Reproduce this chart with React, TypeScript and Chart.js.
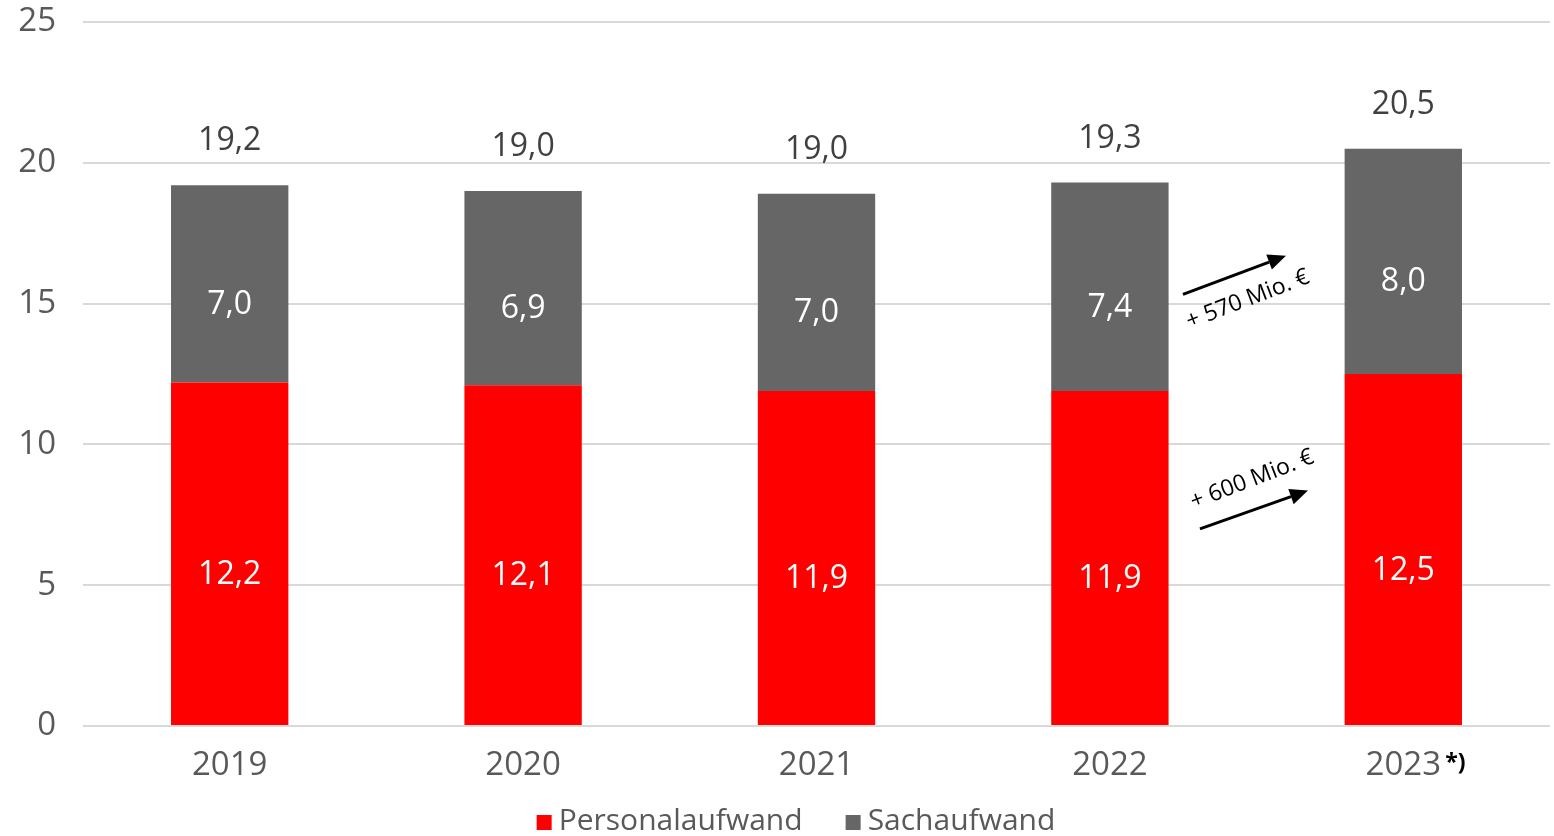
import React, { useEffect, useRef } from "react";
import { Chart, registerables } from "chart.js";

Chart.register(...registerables);

const categories = ["2019", "2020", "2021", "2022", "2023"];
const personalaufwand = [12.2, 12.1, 11.9, 11.9, 12.5];
const sachaufwand = [7.0, 6.9, 7.0, 7.4, 8.0];
const totals = [19.2, 19.0, 19.0, 19.3, 20.5];
const yTicks = [0, 5, 10, 15, 20, 25];

// annotations in data coordinates (x = category index, y = value)
const arrows = [
  { x1: 3.249, y1: 15.33, x2: 3.6, y2: 16.7 },
  { x1: 3.307, y1: 7.0, x2: 3.675, y2: 8.36 },
];
const arrowTexts = [
  { x: 3.47, y: 15.15, text: "+ 570 Mio. €" },
  { x: 3.485, y: 8.75, text: "+ 600 Mio. €" },
];

const FONT = "'Open Sans', 'Noto Sans', sans-serif";
const fmt = (v: number) => v.toFixed(1).replace(".", ",");

const labelPlugin = {
  id: "labelPlugin",
  afterDatasetsDraw(chart: any) {
    const ctx = chart.ctx;
    const xs = chart.scales.x;
    const ys = chart.scales.y;
    ctx.save();
    ctx.textAlign = "center";
    ctx.textBaseline = "middle";
    ctx.font = `32px ${FONT}`;
    chart.data.datasets.forEach((ds: any, di: number) => {
      const meta = chart.getDatasetMeta(di);
      meta.data.forEach((bar: any, i: number) => {
        const cy = (bar.y + bar.base) / 2 + 21;
        ctx.fillStyle = "#ffffff";
        ctx.fillText(fmt(ds.data[i]), bar.x, cy);
      });
    });
    const top = chart.getDatasetMeta(chart.data.datasets.length - 1);
    top.data.forEach((bar: any, i: number) => {
      ctx.fillStyle = "#404040";
      ctx.fillText(fmt(totals[i]), bar.x, bar.y - 44);
    });

    // arrows
    ctx.strokeStyle = "#000";
    ctx.fillStyle = "#000";
    ctx.lineWidth = 3;
    arrows.forEach((a) => {
      const px1 = xs.getPixelForValue(a.x1);
      const px2 = xs.getPixelForValue(a.x2);
      const py1 = ys.getPixelForValue(a.y1);
      const py2 = ys.getPixelForValue(a.y2);
      const ang = Math.atan2(py2 - py1, px2 - px1);
      const hl = 18;
      const hw = 8;
      const bx = px2 - hl * Math.cos(ang);
      const by = py2 - hl * Math.sin(ang);
      ctx.beginPath();
      ctx.moveTo(px1, py1);
      ctx.lineTo(bx, by);
      ctx.stroke();
      ctx.beginPath();
      ctx.moveTo(px2, py2);
      ctx.lineTo(bx + hw * Math.sin(ang), by - hw * Math.cos(ang));
      ctx.lineTo(bx - hw * Math.sin(ang), by + hw * Math.cos(ang));
      ctx.closePath();
      ctx.fill();
    });
    ctx.font = `23px ${FONT}`;
    arrowTexts.forEach((t) => {
      const px = xs.getPixelForValue(t.x);
      const py = ys.getPixelForValue(t.y);
      ctx.save();
      ctx.translate(px, py);
      ctx.rotate((-21 * Math.PI) / 180);
      ctx.fillText(t.text, 0, 0);
      ctx.restore();
    });

    // footnote marker next to 2023
    ctx.font = `bold 23px ${FONT}`;
    ctx.textAlign = "left";
    ctx.fillStyle = "#000";
    const lx = xs.getPixelForValue(categories.length - 1);
    ctx.fillText("*)", lx + 42, ys.bottom + 37);

    // legend
    ctx.font = `30px ${FONT}`;
    const items = chart.data.datasets.map((d: any) => ({
      label: d.label,
      color: d.backgroundColor,
      w: ctx.measureText(d.label).width,
    }));
    const box = 15;
    const gapBox = 7;
    const gapItem = 43;
    const total =
      items.reduce((s: number, it: any) => s + box + gapBox + it.w, 0) +
      gapItem * (items.length - 1);
    let x = chart.width / 2 + 19 - total / 2;
    const ly = chart.height - 15;
    items.forEach((it: any) => {
      ctx.fillStyle = it.color;
      ctx.fillRect(x, ly - 6, box, box);
      x += box + gapBox;
      ctx.fillStyle = "#595959";
      ctx.textBaseline = "middle";
      ctx.fillText(it.label, x, ly);
      x += it.w + gapItem;
    });
    ctx.restore();
  },
};

export default function App() {
  const ref = useRef<HTMLCanvasElement | null>(null);
  useEffect(() => {
    if (!ref.current) return;
    const chart = new Chart(ref.current, {
      type: "bar",
      data: {
        labels: categories,
        datasets: [
          {
            label: "Personalaufwand",
            data: personalaufwand,
            backgroundColor: "#ff0000",
            barPercentage: 0.4,
            categoryPercentage: 1,
          },
          {
            label: "Sachaufwand",
            data: sachaufwand,
            backgroundColor: "#666666",
            barPercentage: 0.4,
            categoryPercentage: 1,
          },
        ],
      },
      options: {
        animation: false,
        responsive: true,
        maintainAspectRatio: false,
        layout: { padding: { top: 22, right: 4, left: 0, bottom: 55 } },
        plugins: {
          tooltip: { enabled: false },
          legend: { display: false },
        },
        scales: {
          x: {
            stacked: true,
            grid: { display: false },
            border: { display: false },
            ticks: { color: "#595959", font: { family: FONT, size: 33 }, padding: 12 },
            afterFit: (s: any) => {
              s.height = 55;
              s.paddingLeft = 0;
              s.paddingRight = 0;
            },
          },
          y: {
            stacked: true,
            min: 0,
            max: 25,
            afterBuildTicks: (s: any) => {
              s.ticks = yTicks.map((v) => ({ value: v }));
            },
            afterFit: (s: any) => {
              s.width = 83;
              s.paddingTop = 0;
              s.paddingBottom = 0;
            },
            grid: { color: "#d9d9d9", lineWidth: 2, drawTicks: false },
            border: { display: false },
            ticks: { color: "#595959", font: { family: FONT, size: 33 }, padding: 27 },
          },
        },
      },
      plugins: [labelPlugin],
    });
    return () => chart.destroy();
  }, []);
  return (
    <div style={{ position: "fixed", left: 0, top: 0, width: 1554, height: 836 }}>
      <canvas ref={ref} />
    </div>
  );
}
